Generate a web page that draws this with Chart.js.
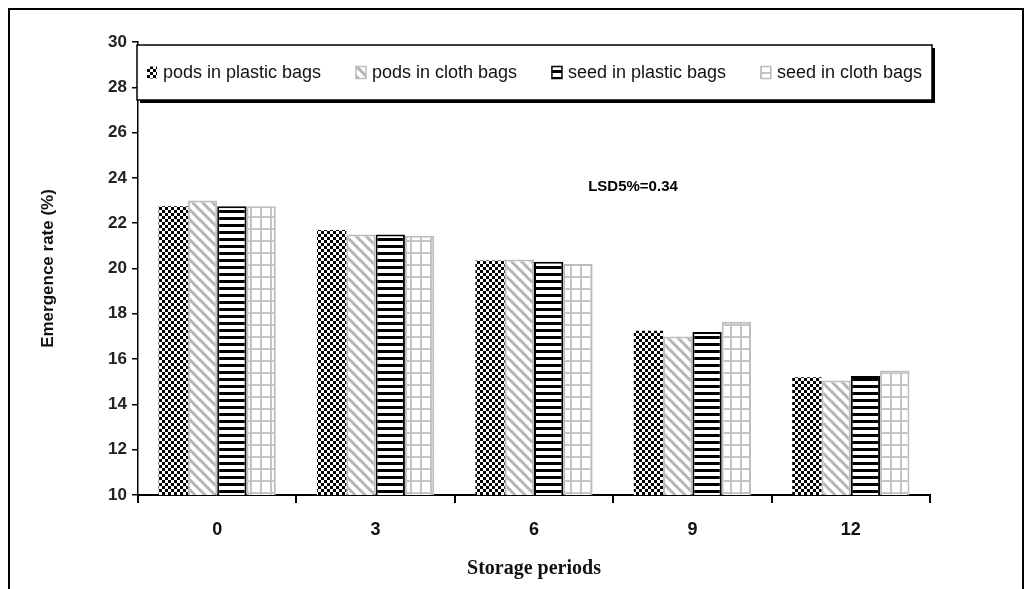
<!DOCTYPE html>
<html>
<head>
<meta charset="utf-8">
<script src="https://cdn.jsdelivr.net/npm/chart.js@4.4.0/dist/chart.umd.min.js"></script>
<style>
  html, body { margin: 0; padding: 0; background: #fff; }
  #wrap { position: relative; width: 1029px; height: 589px; }
  #frame { position: absolute; left: 8px; top: 8px; width: 1016px; height: 600px; border: 2px solid #000; box-sizing: border-box; pointer-events: none; }
</style>
</head>
<body>
<div id="wrap">
  <canvas id="myChart" width="1029" height="589"></canvas>
  <div id="frame"></div>
</div>
<script>
var periods = ["0", "3", "6", "9", "12"];
var podsPlastic = [22.75, 21.7, 20.35, 17.25, 15.2];
var podsCloth = [23.0, 21.5, 20.4, 17.0, 15.05];
var seedPlastic = [22.75, 21.5, 20.3, 17.2, 15.25];
var seedCloth = [22.75, 21.45, 20.2, 17.65, 15.5];
var seriesNames = ["pods in plastic bags", "pods in cloth bags", "seed in plastic bags", "seed in cloth bags"];
var lsdText = "LSD5%=0.34";

var ctx = document.getElementById("myChart").getContext('2d');

// little tiles used as bar fills
function makePattern(w, h, draw) {
    var c = document.createElement('canvas');
    c.width = w; c.height = h;
    var g = c.getContext('2d');
    g.fillStyle = '#fff';
    g.fillRect(0, 0, w, h);
    draw(g);
    return ctx.createPattern(c, 'repeat');
}

var checker = makePattern(6, 6, function (g) {
    g.fillStyle = '#000';
    g.fillRect(0, 0, 3, 3);
    g.fillRect(3, 3, 3, 3);
});
var diagonal = makePattern(10, 10, function (g) {
    g.strokeStyle = '#b5b5b5';
    g.lineWidth = 3;
    g.lineCap = 'square';
    for (var k = -1; k <= 1; k++) {
        g.beginPath();
        g.moveTo(0, k * 10);
        g.lineTo(10, k * 10 + 10);
        g.stroke();
    }
});
var stripes = makePattern(4, 7, function (g) {
    g.fillStyle = '#000';
    g.fillRect(0, 0, 4, 3);
});
var grid = makePattern(10, 12, function (g) {
    g.fillStyle = '#c4c4c4';
    g.fillRect(0, 0, 10, 2);
    g.fillRect(0, 0, 2, 12);
});

// legend box inside the plot + the LSD note
var extras = {
    id: 'extras',
    afterDraw: function (chart) {
        var c = chart.ctx, a = chart.chartArea;
        var yS = chart.scales.y;
        c.save();
        // LSD label
        c.fillStyle = '#000';
        c.font = 'bold 15px "Liberation Sans", Arial, sans-serif';
        c.textAlign = 'center';
        c.textBaseline = 'middle';
        c.fillText(lsdText, a.left + (a.right - a.left) * 0.625, yS.getPixelForValue(23.6));

        // legend box
        var bx = a.left - 1, by = a.top + 3, bw = a.right - a.left + 3, bh = 55;
        c.fillStyle = '#000';
        c.fillRect(bx + 3, by + 3, bw, bh);
        c.fillStyle = '#fff';
        c.fillRect(bx, by, bw, bh);
        c.strokeStyle = '#000';
        c.lineWidth = 1.5;
        c.strokeRect(bx, by, bw, bh);

        c.font = '18px "Liberation Sans Narrow", "Liberation Sans", Arial, sans-serif';
        c.textAlign = 'left';
        var sw = 10, gap = 6;
        var widths = chart.data.datasets.map(function (d) { return sw + gap + c.measureText(d.label).width; });
        var total = widths.reduce(function (s, w) { return s + w; }, 0);
        var pad = 10;
        var space = (bw - 2 * pad - total) / (widths.length - 1);
        var x = bx + pad, cy = by + bh / 2;
        chart.data.datasets.forEach(function (d, i) {
            c.fillStyle = d.backgroundColor;
            c.fillRect(x, cy - 6, sw, 12);
            if (d.borderWidth) {
                c.strokeStyle = d.borderColor;
                c.lineWidth = 1.5;
                c.strokeRect(x, cy - 6, sw, 12);
            }
            c.fillStyle = '#111';
            c.fillText(d.label, x + sw + gap, cy + 1);
            x += widths[i] + space;
        });
        c.restore();
    }
};

var myChart = new Chart(ctx, {
    type: 'bar',
    data: {
        labels: periods,
        datasets: [{
            label: seriesNames[0],
            data: podsPlastic,
            backgroundColor: checker,
            borderWidth: 0
        }, {
            label: seriesNames[1],
            data: podsCloth,
            backgroundColor: diagonal,
            borderColor: '#bdbdbd',
            borderWidth: 2
        }, {
            label: seriesNames[2],
            data: seedPlastic,
            backgroundColor: stripes,
            borderColor: '#000',
            borderWidth: 2
        }, {
            label: seriesNames[3],
            data: seedCloth,
            backgroundColor: grid,
            borderColor: '#bdbdbd',
            borderWidth: 2
        }]
    },
    options: {
        responsive: false,
        animation: false,
        categoryPercentage: 0.74,
        barPercentage: 1.0,
        layout: { padding: { top: 42, right: 99, bottom: 0, left: 0 } },
        plugins: {
            legend: { display: false },
            tooltip: { enabled: false }
        },
        scales: {
            x: {
                offset: true,
                grid: { offset: true, drawOnChartArea: false, color: '#000', tickLength: 8, lineWidth: 2 },
                border: { color: '#000', width: 2 },
                ticks: {
                    color: '#111',
                    padding: 16,
                    font: { family: '"Liberation Sans Narrow", "Liberation Sans", Arial, sans-serif', size: 18, weight: 'bold' }
                },
                title: {
                    display: true,
                    text: 'Storage periods',
                    color: '#111',
                    padding: { top: 0, bottom: 8 },
                    font: { family: '"Liberation Serif", "Times New Roman", serif', size: 20, weight: 'bold' }
                },
                afterFit: function (s) { s.height = 94; }
            },
            y: {
                min: 10,
                max: 30,
                ticks: {
                    stepSize: 2,
                    color: '#222',
                    padding: 5,
                    font: { family: '"Liberation Sans", Arial, sans-serif', size: 17, weight: 'bold' }
                },
                grid: { drawOnChartArea: false, color: '#000', tickLength: 6, lineWidth: 1.5 },
                border: { color: '#000', width: 1.5 },
                title: {
                    display: true,
                    text: 'Emergence rate (%)',
                    color: '#111',
                    padding: { top: 38, bottom: 0 },
                    font: { family: '"Liberation Sans", Arial, sans-serif', size: 17, weight: 'bold' }
                },
                afterFit: function (s) { s.width = 138; }
            }
        }
    },
    plugins: [extras]
});
</script>
</body>
</html>
